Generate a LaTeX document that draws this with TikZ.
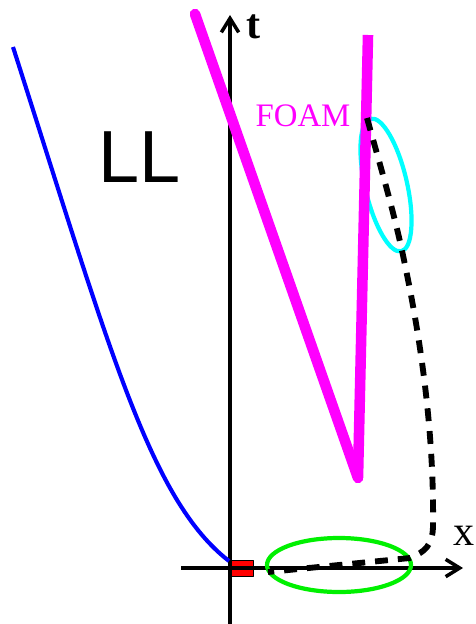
\documentclass[tikz,border=0pt]{standalone}
\usepackage{fontspec}
\setmainfont{Liberation Serif}
\newfontfamily\llfont{Liberation Sans}
\usetikzlibrary{arrows.meta}
\definecolor{foamMagenta}{RGB}{255,0,255}
\definecolor{foamCyan}{RGB}{0,255,255}
\definecolor{ringGreen}{RGB}{0,240,0}
\definecolor{llBlue}{RGB}{0,0,255}
\definecolor{srcRed}{RGB}{255,0,0}

\begin{document}
\begin{tikzpicture}[x=0.03cm, y=-0.03cm, >={Straight Barb[length=4.2mm,width=5.2mm]}, line join=round]

% ---------------- styles ----------------
\tikzset{
  axis/.style={->, line width=3pt},
  lcurve/.style={llBlue, line width=3.5pt},
  wall/.style={foamMagenta, line width=9pt},
  ring/.style={line width=3.6pt},
  traj/.style={line width=5pt, dash pattern=on 11pt off 8.5pt},
  label/.style={inner sep=0pt}
}

\useasboundingbox (0,0) rectangle (475,624);

% ---------------- points ----------------
\coordinate (O) at (230,568);       % origin
\coordinate (tTop) at (230,15);
\coordinate (tBot) at (230,624);
\coordinate (xLeft) at (181,568);
\coordinate (xRight) at (463,568);
\coordinate (Vtop) at (195,14);     % magenta wall
\coordinate (Vbot) at (358,478);
\coordinate (Vend) at (368,35);
\coordinate (Fc) at (386,185);      % cyan ring centre
\coordinate (Gc) at (339,565);      % green ring centre

% ---------------- source box ----------------
\filldraw[fill=srcRed, draw=black, line width=0.8pt] (230,560) rectangle (253,576);

% ---------------- axes ----------------
\draw[axis] (tBot) -- (tTop);
\draw[axis] (xLeft) -- (xRight);
\node[label, font=\bfseries\fontsize{36}{36}\selectfont] (tlab) at (254,27) {t};
\node[label, font=\fontsize{36}{36}\selectfont] (xlab) at (464,536) {x};

% ---------------- LL curve ----------------
\draw[lcurve] (13,47) .. controls (110,350) and (150,500) .. (229,561);
\node[label, font=\llfont\fontsize{63}{63}\selectfont] (LL) at (140,157) {LL};

% ---------------- rings ----------------
\draw[ring, ringGreen] (Gc) ellipse (72 and 27);
\draw[ring, foamCyan, rotate around={13:(Fc)}] (Fc) ellipse (21 and 68);

% ---------------- foam wall ----------------
\draw[wall, line cap=round] (Vtop) -- (Vbot);
\draw[wall, line cap=butt] (Vbot) -- (Vend);
\node[label, foamMagenta, font=\fontsize{28}{28}\selectfont] (foam) at (303,116) {FOAM};

% ---------------- trajectory ----------------
\draw[traj] (367,118) .. controls (380,165) and (395,215) .. (405,265)
  .. controls (425,360) and (434,450) .. (433,525)
  .. controls (433,545) and (425,552) .. (410,558) -- (268,572);

\end{tikzpicture}
\end{document}
